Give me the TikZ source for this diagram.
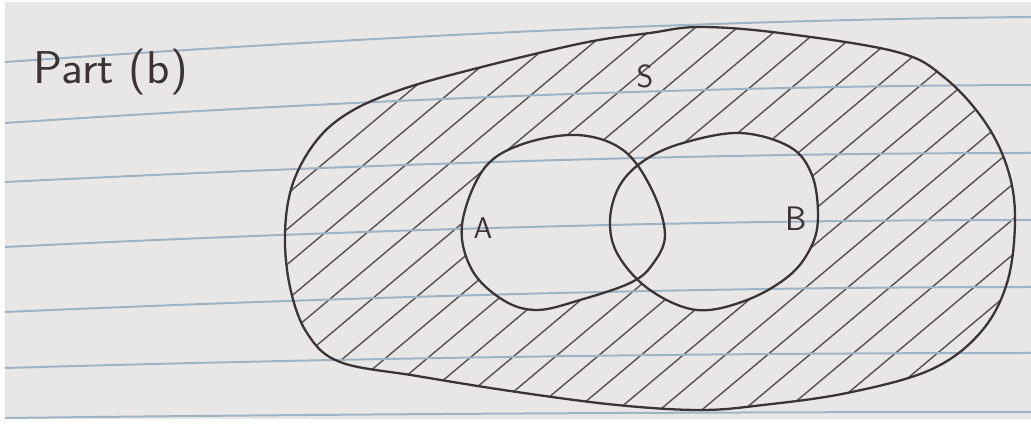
\documentclass[tikz,border=0pt]{standalone}
\begin{document}
\begin{tikzpicture}[x=1pt,y=-1pt,
  ruleline/.style={draw=rulec,line width=2pt},
  inkline/.style={draw=ink,line width=2.3pt,line cap=round,line join=round},
  hatchline/.style={draw=hatchc,line width=1.4pt,line cap=round},
  handtext/.style={text=ink,font=\sffamily}]
\definecolor{paper}{HTML}{E9E6E6}
\definecolor{rulec}{HTML}{9DB4C6}
\definecolor{ink}{HTML}{3A3434}
\definecolor{hatchc}{HTML}{555151}
\useasboundingbox (0,0) rectangle (1031,427);
\fill[white] (0,0) rectangle (1031,427);
\fill[paper] (5,2) rectangle (1031,419);
\def\Spath{plot[smooth cycle,tension=0.6] coordinates {(350,112) (317,140) (293,183) (285,233) (290,287) (307,333) (340,362) (417,376) (517,392) (617,405) (700,410) (763,405) (847,393) (930,370) (980,333) (1007,283) (1015,220) (1008,170) (985,122) (945,78) (897,52) (780,33) (700,27) (650,33) (583,43) (470,70) (400,90)}}
\def\Apath{plot[smooth cycle,tension=0.6] coordinates {(577,135) (623,150) (652,190) (665,235) (652,265) (630,283) (580,300) (537,310) (503,300) (472,270) (462,225) (483,170) (520,145)}}
\def\Bpath{plot[smooth cycle,tension=0.6] coordinates {(610,220) (620,185) (645,160) (683,143) (740,133) (790,147) (812,175) (818,215) (812,245) (790,275) (747,300) (697,310) (650,290) (618,255)}}
% hatching inside S
\begin{scope}
\clip \Spath;
\foreach \c in {-300,-258,...,1100} \draw[hatchline] (\c,440) -- ++(560,-470);
\end{scope}
\fill[paper] \Apath;
\fill[paper] \Bpath;
% ruled lines of the paper
\draw[ruleline] (5,62) .. controls (350,38) and (700,20) .. (1031,17);
\draw[ruleline] (5,123) .. controls (350,100) and (700,86) .. (1031,85);
\draw[ruleline] (5,182) .. controls (350,165) and (700,153) .. (1031,153);
\draw[ruleline] (5,247) .. controls (350,230) and (700,220) .. (1031,220);
\draw[ruleline] (5,312) .. controls (350,297) and (700,287) .. (1031,287);
\draw[ruleline] (5,368) .. controls (350,358) and (700,353) .. (1031,353);
\draw[ruleline] (5,418) .. controls (350,414) and (700,412) .. (1031,412);
% outlines
\draw[inkline] \Spath;
\draw[inkline] \Apath;
\draw[inkline] \Bpath;
% labels
\node[handtext,font=\sffamily\fontsize{46}{46}\selectfont,anchor=west,xscale=1.05] (title) at (30,72) {Part (b)};
\node[handtext,font=\sffamily\fontsize{32}{32}\selectfont] (labS) at (645,76) {S};
\node[handtext,font=\sffamily\fontsize{30}{30}\selectfont] (labA) at (483,228) {A};
\node[handtext,font=\sffamily\fontsize{34}{34}\selectfont] (labB) at (796,219) {B};
\end{tikzpicture}
\end{document}
